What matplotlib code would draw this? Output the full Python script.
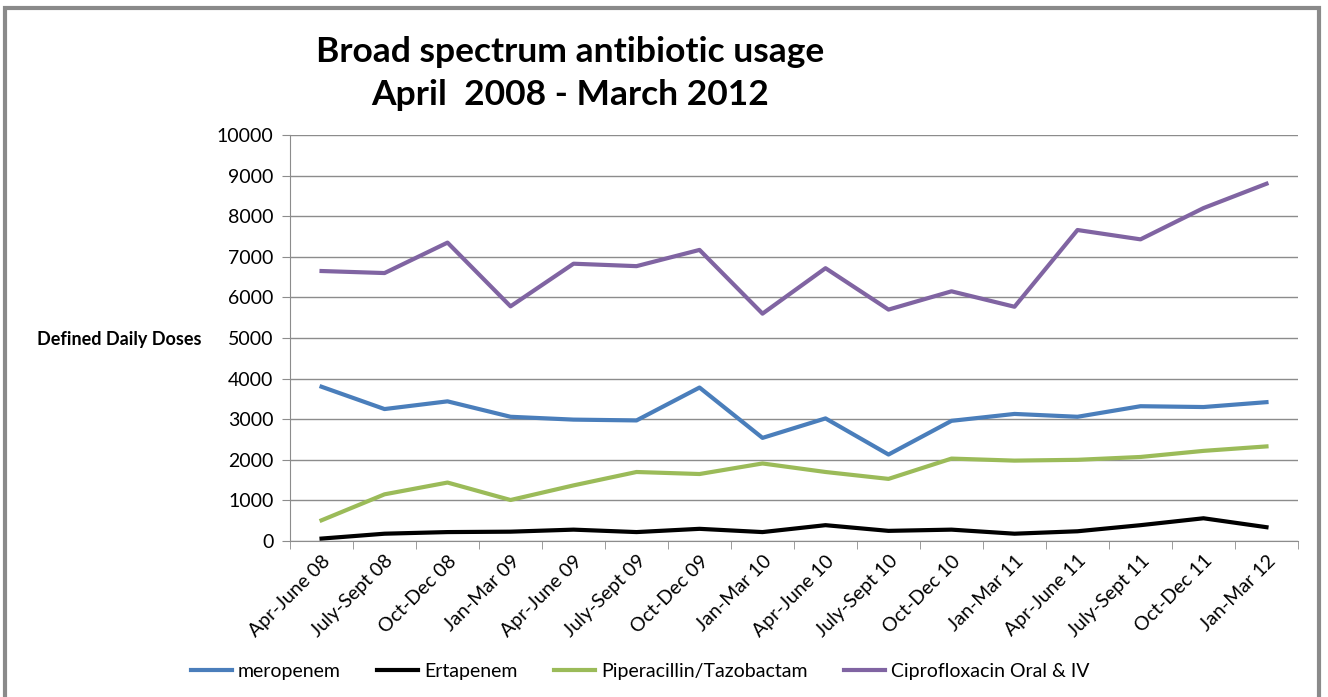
import matplotlib.pyplot as plt
from matplotlib.patches import Rectangle

plt.rcParams['font.family'] = ['Lato', 'DejaVu Sans']

quarters = ['Apr-June 08', 'July-Sept 08', 'Oct-Dec 08', 'Jan-Mar 09',
            'Apr-June 09', 'July-Sept 09', 'Oct-Dec 09', 'Jan-Mar 10',
            'Apr-June 10', 'July-Sept 10', 'Oct-Dec 10', 'Jan-Mar 11',
            'Apr-June 11', 'July-Sept 11', 'Oct-Dec 11', 'Jan-Mar 12']

meropenem = [3800, 3250, 3440, 3060, 2990, 2970, 3780, 2540,
             3020, 2130, 2960, 3130, 3060, 3320, 3300, 3420]
ertapenem = [60, 180, 220, 230, 280, 220, 300, 220,
             390, 250, 280, 180, 240, 390, 560, 340]
pip_taz = [510, 1150, 1440, 1010, 1370, 1700, 1650, 1910,
           1700, 1530, 2030, 1980, 2000, 2070, 2220, 2330]
cipro = [6650, 6600, 7350, 5780, 6830, 6770, 7170, 5600,
         6720, 5700, 6150, 5770, 7660, 7430, 8200, 8800]

fig = plt.figure(figsize=(13.28, 6.97), dpi=100)
ax = fig.add_axes([0.2184, 0.2238, 0.7590, 0.5825])

x = range(len(quarters))
ax.plot(x, meropenem, color='#4A7EBB', lw=3, label='meropenem')
ax.plot(x, ertapenem, color='black', lw=3, label='Ertapenem')
ax.plot(x, pip_taz, color='#9BBB59', lw=3, label='Piperacillin/Tazobactam')
ax.plot(x, cipro, color='#8064A2', lw=3, label='Ciprofloxacin Oral & IV')

ax.set_xlim(-0.5, len(quarters) - 0.5)
ax.set_ylim(0, 10000)
ax.set_yticks(range(0, 10001, 1000))
ax.yaxis.grid(True, color='#8c8c8c', lw=1)
ax.set_axisbelow(True)

ax.set_xticks(list(x))
ax.set_xticklabels(quarters, rotation=45, ha='right', rotation_mode='anchor', fontsize=14)
ax.set_xticks([i - 0.5 for i in range(len(quarters) + 1)], minor=True)
ax.tick_params(axis='x', which='major', length=0, pad=8)
ax.tick_params(axis='x', which='minor', length=6, color='#8c8c8c')
ax.tick_params(axis='y', length=6, color='#8c8c8c', labelsize=14, pad=6)

for side in ['top', 'right']:
    ax.spines[side].set_visible(False)
for side in ['left', 'bottom']:
    ax.spines[side].set_color('#8c8c8c')

fig.text(0.028, 0.5125, 'Defined Daily Doses', fontsize=13, fontweight='bold', va='center')
fig.text(0.429, 0.8945, 'Broad spectrum antibiotic usage\nApril  2008 - March 2012',
         fontsize=25.5, fontweight='bold', ha='center', va='center', linespacing=1.42)

fig.legend(loc='center', bbox_to_anchor=(0.482, 0.037), ncol=4, frameon=False,
           fontsize=14, handlelength=2.1, columnspacing=1.9, handletextpad=0.3)

# grey outer frame
fig.patches.append(Rectangle((5 / 1328, -0.05), 1314 / 1328, 1.05 - 8 / 697,
                             transform=fig.transFigure, fill=False,
                             edgecolor='#8a8a8a', lw=3))

fig.savefig('out.png', dpi=100)
